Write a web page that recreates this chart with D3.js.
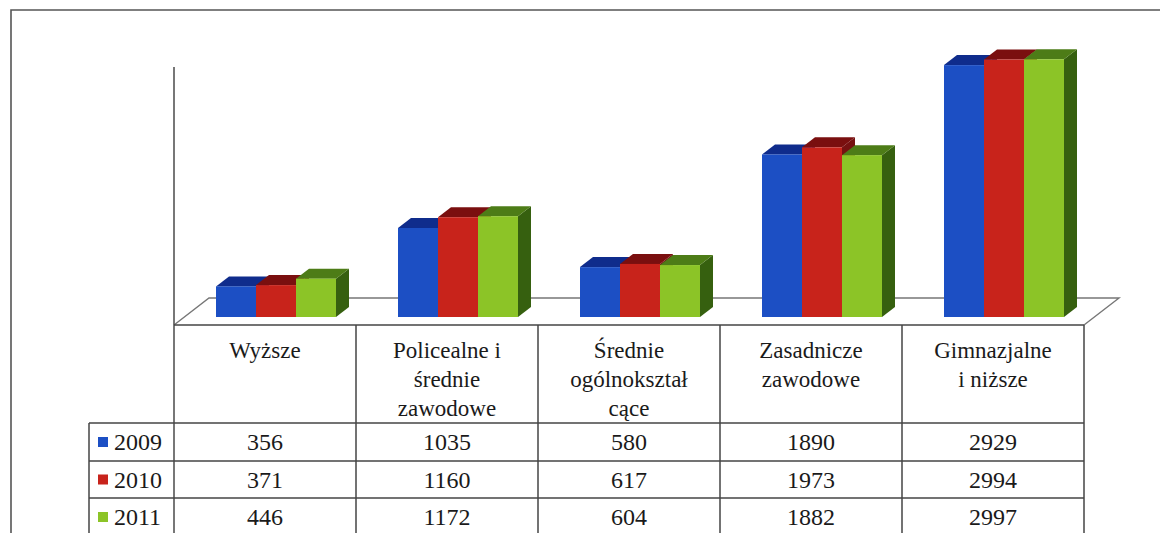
<!DOCTYPE html>
<html>
<head>
<meta charset="utf-8">
<script src="https://cdn.jsdelivr.net/npm/d3@7"></script>
<style>
  body { margin: 0; background: #fff; }
</style>
</head>
<body>
<div id="chart"></div>
<script>
// data
const categories = ['Wyższe', 'Policealne i średnie zawodowe', 'Średnie ogólnokształcące', 'Zasadnicze zawodowe', 'Gimnazjalne i niższe']
const categoryLines = [['Wyższe'], ['Policealne i', 'średnie', 'zawodowe'], ['Średnie', 'ogólnokształ', 'cące'], ['Zasadnicze', 'zawodowe'], ['Gimnazjalne', 'i niższe']]
const years = ['2009', '2010', '2011']
const values2009 = [356, 1035, 580, 1890, 2929]
const values2010 = [371, 1160, 617, 1973, 2994]
const values2011 = [446, 1172, 604, 1882, 2997]
const series = [values2009, values2010, values2011]

const width = 1160
const height = 533
const colors = [
  { front: '#1c4fc4', top: '#0f2c8c', side: '#10307c' },
  { front: '#c8231b', top: '#7a0f0f', side: '#761111' },
  { front: '#8cc427', top: '#4d7c17', side: '#36600f' }
]
const font = "'Liberation Serif', 'Times New Roman', serif"

const tableLeft = 174, tableRight = 1084, legendLeft = 89
const floorFront = 325
const floorDepth = [35, -27]
const barOffset = [11, -8]
const barDepth = [13, -10]
const rowTops = [423, 461, 498, 536]

const svg = d3.select('#chart')
  .append('svg')
  .attr('width', width)
  .attr('height', height)
  .attr('viewBox', [0, 0, width, height])

// outer frame
svg.append('path')
  .attr('d', `M11,${height} L11,10 L${width},10`)
  .attr('fill', 'none')
  .attr('stroke', '#555')
  .attr('stroke-width', 1.6)

const x = d3.scaleBand()
  .domain(d3.range(categories.length))
  .range([tableLeft, tableRight])

const groupWidth = 120
const xs = d3.scaleBand()
  .domain(d3.range(years.length))
  .range([-groupWidth / 2, groupWidth / 2])

const y = d3.scaleLinear()
  .domain([0, 3000])
  .range([floorFront, 67])

// floor
svg.append('path')
  .attr('d', `M${tableLeft},${floorFront} L${tableLeft + floorDepth[0]},${floorFront + floorDepth[1]} L${tableRight + floorDepth[0]},${floorFront + floorDepth[1]} L${tableRight},${floorFront}`)
  .attr('fill', '#fff')
  .attr('stroke', '#777')
  .attr('stroke-width', 1.4)

// vertical axis line
svg.append('line')
  .attr('x1', tableLeft).attr('x2', tableLeft)
  .attr('y1', y(3000)).attr('y2', rowTops[3])
  .attr('stroke', '#555')
  .attr('stroke-width', 1.6)

// bars
const bars = []
categories.forEach((c, i) => {
  series.forEach((s, j) => bars.push({ i, j, v: s[i] }))
})

const barG = svg.append('g')
  .selectAll('g')
  .data(bars)
  .join('g')

function geom(d) {
  const cx = x(d.i) + x.bandwidth() / 2
  const x0 = cx + xs(d.j) + barOffset[0]
  const x1 = x0 + xs.bandwidth()
  const yb = y(0) + barOffset[1]
  const yt = y(d.v) + barOffset[1]
  return { x0, x1, yb, yt }
}

barG.append('path')
  .attr('d', d => {
    const g = geom(d)
    return `M${g.x1},${g.yb} L${g.x1 + barDepth[0]},${g.yb + barDepth[1]} L${g.x1 + barDepth[0]},${g.yt + barDepth[1]} L${g.x1},${g.yt}Z`
  })
  .attr('fill', d => colors[d.j].side)

barG.append('path')
  .attr('d', d => {
    const g = geom(d)
    return `M${g.x0},${g.yt} L${g.x0 + barDepth[0]},${g.yt + barDepth[1]} L${g.x1 + barDepth[0]},${g.yt + barDepth[1]} L${g.x1},${g.yt}Z`
  })
  .attr('fill', d => colors[d.j].top)

barG.append('rect')
  .attr('x', d => geom(d).x0)
  .attr('y', d => geom(d).yt)
  .attr('width', xs.bandwidth())
  .attr('height', d => geom(d).yb - geom(d).yt)
  .attr('fill', d => colors[d.j].front)

// data table
const table = svg.append('g')
  .attr('stroke', '#444')
  .attr('stroke-width', 1.5)

table.append('line')
  .attr('x1', tableLeft).attr('x2', tableRight)
  .attr('y1', floorFront).attr('y2', floorFront)

rowTops.slice(0, 3).forEach(ry => {
  table.append('line')
    .attr('x1', legendLeft).attr('x2', tableRight)
    .attr('y1', ry).attr('y2', ry)
})

table.append('line')
  .attr('x1', legendLeft).attr('x2', legendLeft)
  .attr('y1', rowTops[0]).attr('y2', height)

categories.forEach((c, i) => {
  table.append('line')
    .attr('x1', x(i) + x.bandwidth()).attr('x2', x(i) + x.bandwidth())
    .attr('y1', floorFront).attr('y2', height)
})

// category labels
categoryLines.forEach((lines, i) => {
  const t = svg.append('text')
    .attr('text-anchor', 'middle')
    .style('font-family', font)
    .attr('font-size', 23)
    .attr('fill', '#1a1a1a')
  lines.forEach((ln, k) => {
    t.append('tspan')
      .attr('x', x(i) + x.bandwidth() / 2)
      .attr('y', 358 + k * 29)
      .text(ln)
  })
})

// legend column + values
years.forEach((yr, j) => {
  const cy = (rowTops[j] + rowTops[j + 1]) / 2
  svg.append('rect')
    .attr('x', 98).attr('y', cy - 5)
    .attr('width', 10).attr('height', 10)
    .attr('fill', colors[j].front)
  svg.append('text')
    .attr('x', 114).attr('y', cy + 8)
    .style('font-family', font)
    .attr('font-size', 24)
    .attr('fill', '#1a1a1a')
    .text(yr)
  series[j].forEach((v, i) => {
    svg.append('text')
      .attr('x', x(i) + x.bandwidth() / 2)
      .attr('y', cy + 8)
      .attr('text-anchor', 'middle')
      .style('font-family', font)
      .attr('font-size', 24)
      .attr('fill', '#1a1a1a')
      .text(v)
  })
})
</script>
</body>
</html>
